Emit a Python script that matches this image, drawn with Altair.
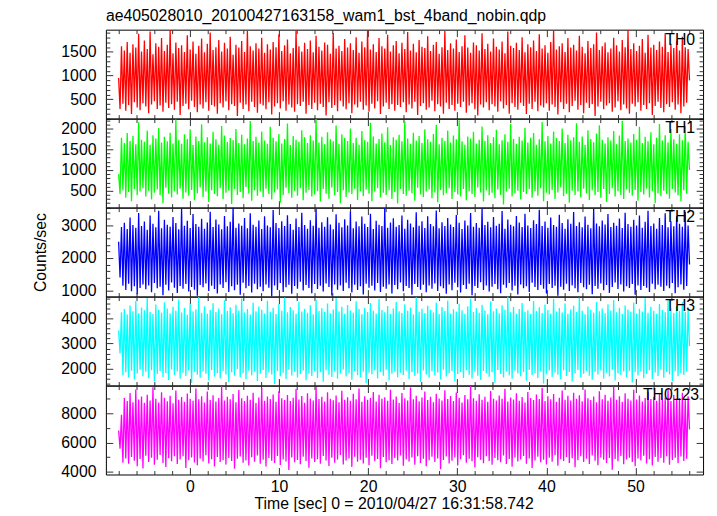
import altair as alt
import pandas as pd

TITLE = "ae405028010_20100427163158_wam1_bst_4band_nobin.qdp"
X_TITLE = "Time [sec] 0 = 2010/04/27 16:31:58.742"
Y_TITLE = "Counts/sec"
T_START = -8.0
T_END = 56.06
X_DOMAIN = [-9.43, 57.58]
X_MAJOR = [0, 10, 20, 30, 40, 50]
X_MINOR = [-8, -6, -4, -2, 2, 4, 6, 8, 12, 14, 16, 18, 22, 24, 26, 28, 32, 34, 36, 38,
           42, 44, 46, 48, 52, 54, 56]

TH0 = [950, 300, 1620, 410, 1530, 260, 1710, 380, 1480, 190, 1660, 440, 1590, 330, 1880, 270, 1510, 420, 1740, 350,
       1560, 210, 1930, 390, 1450, 460, 1680, 300, 1610, 370, 1790, 240, 1520, 430, 1650, 320, 1960, 400, 1470, 280,
       1700, 450, 1580, 170, 1640, 360, 1500, 410, 1850, 290, 1550, 470, 1720, 340, 1460, 230, 1630, 390, 1780, 310,
       1490, 440, 1670, 260, 1910, 380, 1540, 350, 1600, 200, 1750, 420, 1510, 330, 1690, 460, 1570, 270, 1820, 400,
       1440, 360, 1650, 150, 1590, 430, 1730, 300, 1500, 390, 1940, 250, 1620, 450, 1530, 340, 1680, 220, 1570, 410,
       1800, 370, 1480, 290, 1660, 440, 1550, 180, 1710, 350, 1600, 420, 1870, 310, 1520, 460, 1640, 260, 1760, 390,
       1470, 330, 1580, 240, 1950, 400, 1620, 360, 1510, 450, 1690, 200, 1560, 380, 1740, 300, 1490, 430, 1840, 270,
       1610, 410, 1530, 340, 1700, 160, 1650, 440, 1460, 320, 1900, 380, 1570, 250, 1630, 470, 1520, 350, 1770, 290,
       1590, 420, 1680, 210, 1540, 390, 1810, 330, 1480, 450, 1720, 280, 1600, 370, 1960, 240, 1550, 410, 1660, 310,
       1500, 460, 1790, 190, 1620, 350, 1570, 430, 1860, 300, 1510, 400, 1640, 260, 1730, 380, 1470, 340, 1690, 440,
       1560, 230, 1920, 390, 1530, 310, 1670, 450, 1490, 170, 1750, 360, 1610, 420, 1580, 280, 1830, 330, 1520, 470,
       1650, 250, 1710, 400, 1460, 350, 1600, 200, 1940, 430, 1540, 300, 1680, 380, 1570, 260, 1760, 410, 1500, 340,
       1620, 450, 1850, 220, 1590, 370, 1480, 420, 1700, 290, 1640, 160, 1530, 390, 1890, 330, 1560, 440, 1670, 270,
       1510, 400, 1780, 350, 1610, 240, 1550, 460, 1720, 310, 1470, 380, 1930, 200, 1630, 420, 1580, 340, 1690, 280,
       1540, 430, 1810, 360, 1490, 190, 1660, 410, 1600, 300, 1740, 450, 1520, 250, 1870, 370, 1570, 330, 1640, 420,
       1480, 260, 1710, 390, 1950, 340, 1550, 180, 1620, 440, 1680, 300, 1500, 410, 1790, 230, 1590, 360, 1650, 470,
       1530, 280, 1840, 380, 1610, 210, 1470, 430, 1730, 320, 1580, 400, 1660, 150, 1910, 350, 1540, 450, 1620, 290,
       1700, 370, 1490, 420, 1570, 240, 1800, 330, 1640, 460, 1510, 270, 1750, 390, 1600, 310, 1960, 200, 1560, 410,
       1680, 350, 1520, 440, 1630, 260, 1770, 380, 1480, 300, 1860, 420, 1590, 170, 1650, 360, 1540, 450, 1720, 320,
       1610, 230, 1900, 400, 1500, 340, 1670, 440, 1580, 280, 1740, 390, 1530, 210, 1820, 350, 1600, 430, 1560, 900]

TH1 = [900, 420, 1780, 510, 1650, 330, 1890, 470, 1700, 250, 1820, 540, 1620, 390, 2150, 480, 1730, 560, 1680, 360,
       1950, 500, 1610, 290, 1840, 450, 1760, 530, 2010, 400, 1660, 200, 1800, 570, 1690, 430, 1900, 340, 1640, 490,
       2220, 410, 1720, 550, 1630, 310, 1860, 460, 1750, 380, 1980, 520, 1600, 270, 1810, 440, 1700, 580, 2100, 350,
       1670, 480, 1790, 230, 1640, 510, 1920, 420, 1740, 370, 1610, 560, 2060, 300, 1830, 450, 1680, 500, 1770, 180,
       1720, 540, 1990, 400, 1650, 470, 1850, 320, 1620, 590, 1760, 430, 2180, 260, 1700, 510, 1800, 380, 1660, 480,
       1930, 350, 1710, 550, 1630, 420, 2040, 290, 1780, 460, 1690, 530, 1870, 210, 1640, 400, 1750, 570, 2120, 440,
       1600, 330, 1820, 500, 1730, 380, 1680, 560, 1960, 270, 1790, 450, 1650, 520, 1840, 360, 1710, 410, 2230, 490,
       1660, 240, 1800, 540, 1620, 430, 1910, 310, 1740, 580, 1690, 390, 2070, 470, 1630, 200, 1860, 510, 1770, 350,
       1700, 460, 2000, 420, 1650, 550, 1780, 280, 1610, 490, 1940, 370, 1720, 530, 1680, 430, 2140, 250, 1810, 480,
       1640, 560, 1750, 340, 1880, 450, 1670, 400, 2030, 510, 1600, 300, 1790, 470, 1730, 190, 1850, 540, 1690, 420,
       2170, 380, 1760, 500, 1630, 440, 1900, 260, 1710, 570, 1820, 410, 1650, 350, 1980, 480, 1740, 530, 1680, 320,
       1870, 460, 2090, 220, 1620, 520, 1780, 390, 1700, 440, 1950, 560, 1660, 300, 1830, 470, 1740, 410, 2200, 360,
       1690, 540, 1610, 270, 1810, 490, 1760, 420, 1920, 350, 1640, 580, 1730, 460, 2050, 240, 1700, 510, 1840, 390,
       1650, 450, 1790, 320, 1970, 530, 1620, 400, 1720, 170, 1860, 480, 1680, 550, 2110, 360, 1750, 440, 1630, 500,
       1800, 290, 1710, 470, 2020, 420, 1660, 540, 1780, 330, 1890, 490, 1610, 380, 1740, 560, 2160, 250, 1690, 450,
       1820, 410, 1640, 520, 1930, 300, 1770, 460, 1700, 580, 2000, 370, 1650, 430, 1850, 210, 1720, 500, 1790, 400,
       2130, 480, 1680, 340, 1810, 550, 1600, 440, 1960, 280, 1750, 510, 1670, 390, 1880, 470, 2080, 330, 1730, 540,
       1640, 230, 1790, 420, 1710, 560, 1940, 360, 1620, 490, 1830, 400, 2190, 300, 1700, 530, 1760, 450, 1660, 380,
       1870, 520, 1730, 260, 2040, 470, 1650, 410, 1800, 550, 1690, 340, 1910, 490, 1620, 200, 1780, 440, 2110, 370,
       1710, 500, 1840, 420, 1670, 310, 1990, 540, 1740, 460, 1630, 390, 1860, 250, 1720, 510, 2060, 430, 1680, 1000]

TH2 = [2500, 1400, 2950, 1150, 3080, 1020, 2890, 1210, 3240, 980, 3010, 1130, 2930, 890, 3380, 1080, 2980, 1190, 3120, 1040,
       2870, 1160, 3300, 950, 3050, 1230, 2940, 1070, 3450, 1120, 2910, 860, 3170, 1180, 3020, 1000, 2960, 1250, 3260, 1090,
       3070, 930, 2880, 1140, 3510, 1060, 2990, 1200, 3140, 970, 2920, 1110, 3350, 1030, 3040, 840, 2960, 1170, 3200, 1100,
       2900, 1220, 3090, 990, 3420, 1150, 2950, 1050, 3180, 910, 3030, 1190, 2880, 1080, 3290, 1260, 2970, 960, 3110, 1130,
       3540, 1010, 2930, 1180, 3060, 870, 2990, 1240, 3230, 1070, 2910, 1140, 3370, 940, 3020, 1210, 2960, 1040, 3150, 1120,
       2890, 980, 3280, 1190, 3000, 1090, 2940, 830, 3470, 1160, 3070, 1020, 2920, 1230, 3130, 960, 2980, 1100, 3310, 1180,
       3040, 900, 2870, 1140, 3210, 1060, 2950, 1270, 3390, 1000, 3010, 1170, 2900, 1080, 3160, 920, 2990, 1200, 3500, 1050,
       2930, 1150, 3100, 970, 2960, 1220, 3250, 1110, 3030, 850, 2880, 1190, 3340, 1030, 3080, 1160, 2940, 990, 3190, 1240,
       3000, 1070, 3430, 940, 2910, 1180, 3120, 1020, 2970, 1130, 3270, 880, 3050, 1210, 2950, 1090, 3360, 1150, 2890, 1000,
       3140, 1230, 3020, 960, 2980, 1120, 3530, 1060, 2930, 1190, 3090, 910, 3220, 1170, 2960, 1040, 3010, 1250, 3300, 980,
       2900, 1140, 3170, 1080, 3060, 870, 2940, 1200, 3400, 1110, 2990, 1030, 3130, 1180, 2920, 950, 3280, 1160, 3040, 1060,
       2970, 1220, 3460, 990, 2910, 1130, 3100, 1070, 2980, 900, 3230, 1190, 3030, 1010, 2950, 1240, 3320, 1100, 3080, 940,
       2890, 1170, 3150, 1050, 3000, 1210, 3380, 860, 2960, 1140, 3070, 1080, 2930, 1260, 3520, 1020, 3010, 1160, 3110, 970,
       2940, 1120, 3260, 1200, 2990, 1040, 3050, 920, 3440, 1180, 2900, 1090, 3180, 1230, 3020, 1000, 2970, 1150, 3290, 880,
       3090, 1190, 2950, 1070, 3360, 1130, 3000, 960, 2920, 1240, 3160, 1110, 3040, 1020, 3480, 1170, 2980, 1060, 3120, 910,
       2930, 1200, 3240, 1080, 3010, 1150, 2960, 840, 3330, 1120, 3070, 1030, 2900, 1210, 3190, 990, 3050, 1160, 3410, 1070,
       2980, 950, 3100, 1230, 2940, 1100, 3270, 1040, 3020, 1180, 2910, 890, 3500, 1140, 3060, 1060, 2970, 1220, 3150, 1010,
       3030, 1170, 3350, 930, 2950, 1110, 3080, 1250, 2990, 1050, 3210, 1190, 2920, 970, 3390, 1130, 3040, 1080, 2960, 1200,
       3170, 870, 3000, 1160, 3300, 1020, 2930, 1140, 3110, 1090, 3450, 960, 2980, 1210, 3060, 1040, 2900, 1180, 3230, 1120,
       3010, 990, 3370, 1150, 2940, 1070, 3130, 1230, 2970, 920, 3280, 1100, 3050, 1190, 2960, 1030, 3420, 1140, 3000, 1800]

TH3 = [3520, 2600, 4250, 1720, 4380, 1850, 4160, 1640, 4520, 1910, 4290, 1560, 4700, 1800, 4210, 1950, 4440, 1690, 4330, 1870,
       4820, 1610, 4270, 1930, 4180, 1480, 4560, 1780, 4350, 1900, 4230, 1660, 4650, 1820, 4400, 1540, 4200, 1960, 4470, 1740,
       4310, 1880, 4760, 1590, 4240, 1830, 4420, 1700, 4150, 1920, 4590, 1420, 4280, 1860, 4370, 1750, 4860, 1630, 4220, 1890,
       4490, 1790, 4190, 1520, 4340, 1940, 4610, 1680, 4260, 1810, 4400, 1600, 4170, 1900, 4730, 1760, 4300, 1450, 4450, 1850,
       4210, 1710, 4550, 1980, 4320, 1650, 4800, 1820, 4240, 1570, 4380, 1910, 4160, 1730, 4630, 1870, 4290, 1500, 4480, 1790,
       4350, 1940, 4200, 1620, 4710, 1840, 4270, 1760, 4430, 1380, 4180, 1900, 4580, 1690, 4310, 1830, 4840, 1580, 4250, 1950,
       4460, 1720, 4330, 1860, 4190, 1640, 4670, 1780, 4280, 1920, 4390, 1530, 4230, 1810, 4530, 1700, 4170, 1890, 4750, 1610,
       4300, 1850, 4410, 1470, 4260, 1930, 4600, 1750, 4210, 1660, 4360, 1880, 4820, 1590, 4280, 1800, 4470, 1960, 4190, 1680,
       4540, 1820, 4320, 1550, 4230, 1900, 4690, 1730, 4380, 1640, 4170, 1870, 4420, 1410, 4260, 1840, 4620, 1770, 4310, 1930,
       4200, 1600, 4780, 1860, 4340, 1710, 4250, 1950, 4500, 1520, 4180, 1790, 4400, 1880, 4660, 1650, 4290, 1830, 4220, 1740,
       4570, 1910, 4310, 1580, 4440, 1850, 4160, 1700, 4850, 1800, 4270, 1460, 4390, 1920, 4220, 1760, 4510, 1630, 4350, 1890,
       4240, 1720, 4640, 1840, 4180, 1560, 4460, 1950, 4300, 1680, 4720, 1810, 4200, 1900, 4370, 1490, 4280, 1780, 4590, 1860,
       4330, 1620, 4190, 1930, 4490, 1750, 4790, 1600, 4260, 1870, 4410, 1710, 4230, 1540, 4550, 1900, 4320, 1820, 4170, 1670,
       4680, 1850, 4290, 1430, 4400, 1940, 4210, 1780, 4530, 1640, 4350, 1880, 4870, 1730, 4250, 1590, 4460, 1910, 4190, 1800,
       4380, 1690, 4620, 1860, 4270, 1510, 4330, 1950, 4180, 1740, 4700, 1820, 4300, 1620, 4450, 1890, 4220, 1400, 4560, 1770,
       4340, 1920, 4200, 1660, 4780, 1840, 4280, 1750, 4420, 1570, 4240, 1930, 4600, 1700, 4190, 1860, 4370, 1480, 4510, 1810,
       4260, 1940, 4830, 1640, 4310, 1790, 4170, 1900, 4480, 1710, 4350, 1550, 4230, 1870, 4660, 1760, 4290, 1920, 4400, 1600,
       4210, 1830, 4570, 1680, 4320, 1950, 4740, 1520, 4250, 1800, 4430, 1740, 4180, 1880, 4520, 1650, 4360, 1910, 4270, 1440,
       4640, 1850, 4200, 1720, 4390, 1890, 4280, 1610, 4810, 1780, 4230, 1930, 4470, 1570, 4310, 1840, 4190, 1700, 4580, 1950,
       4340, 1630, 4250, 1860, 4720, 1760, 4410, 1500, 4220, 1900, 4490, 1690, 4300, 1820, 4650, 1740, 4260, 1880, 4370, 2900]

TH0123 = [6820, 5580, 7900, 4620, 9050, 4910, 8830, 4550, 9380, 5020, 8760, 4760, 9620, 4390, 8940, 4880, 9150, 4230, 8710, 5100,
          9270, 4680, 8880, 4960, 9780, 4490, 8990, 4820, 8740, 5150, 9430, 4600, 9060, 4330, 8820, 4930, 9200, 4720, 8690, 5060,
          9560, 4530, 8930, 4840, 9110, 5070, 8780, 4270, 9350, 4790, 9000, 4980, 8850, 4640, 9690, 4450, 8960, 4900, 9170, 4710,
          8730, 5130, 9480, 4580, 8900, 4860, 9230, 4370, 8800, 5020, 9040, 4670, 9840, 4800, 8870, 4500, 9120, 4950, 8950, 4740,
          9310, 4210, 8760, 4890, 9590, 5050, 9020, 4620, 8840, 4780, 9190, 4430, 8920, 5000, 9400, 4690, 8700, 5110, 9080, 4550,
          9720, 4830, 8860, 4360, 9140, 4940, 8980, 4760, 9290, 4600, 8790, 5080, 9510, 4470, 9030, 4850, 8910, 4710, 9250, 4120,
          8830, 4990, 9060, 4650, 9650, 4810, 8940, 4520, 9180, 5040, 8720, 4740, 9360, 4290, 9010, 4920, 8880, 4680, 9800, 4870,
          8970, 4560, 9130, 5090, 8810, 4780, 9440, 4400, 9000, 4960, 8890, 4630, 9220, 4840, 8750, 5150, 9540, 4510, 8930, 4770,
          9100, 4910, 8850, 4340, 9330, 5030, 8960, 4690, 9700, 4820, 8780, 4580, 9160, 4970, 8920, 4460, 9050, 5100, 9460, 4730,
          8800, 4880, 9260, 4250, 8990, 5010, 9090, 4660, 8860, 4800, 9610, 4540, 8940, 4940, 9150, 4770, 8710, 5120, 9380, 4410,
          9030, 4850, 8870, 4700, 9760, 4980, 8950, 4490, 9200, 5060, 8820, 4610, 9070, 4890, 9490, 4380, 8900, 4790, 9120, 5030,
          8760, 4670, 9340, 4920, 9010, 4180, 8880, 4810, 9580, 5050, 8970, 4570, 9180, 4760, 8830, 4990, 9420, 4440, 9060, 4860,
          8740, 5140, 9240, 4620, 8960, 4900, 9860, 4720, 9020, 4300, 8850, 5000, 9300, 4830, 8930, 4590, 9130, 5070, 8780, 4750,
          9520, 4480, 9000, 4940, 8870, 4800, 9210, 4660, 8990, 5110, 9670, 4530, 8800, 4880, 9080, 4350, 8940, 4980, 9370, 4710,
          8860, 4840, 9110, 5090, 8730, 4560, 9450, 4920, 9040, 4260, 8910, 4780, 9280, 5040, 8980, 4650, 9740, 4820, 8840, 4500,
          9160, 4960, 8950, 4690, 9320, 5130, 8790, 4420, 9060, 4870, 9550, 4740, 8920, 5010, 9190, 4600, 8870, 4930, 9400, 4320,
          8990, 4790, 9230, 5060, 8820, 4670, 9630, 4900, 9030, 4540, 8900, 5110, 9140, 4760, 8760, 4450, 9500, 4990, 8960, 4820,
          9270, 4610, 8850, 4950, 9080, 4150, 9810, 4880, 8930, 4730, 9170, 5080, 8780, 4520, 9360, 4840, 9000, 4970, 8880, 4680,
          9600, 4390, 8940, 4910, 9210, 4770, 8810, 5100, 9050, 4580, 9470, 4860, 8970, 4440, 9130, 5020, 8850, 4700, 9330, 4940,
          8920, 4630, 9090, 5070, 9690, 4480, 8830, 4810, 9250, 4960, 8960, 4590, 9020, 5050, 9410, 4750, 8900, 4900, 9160, 6900]

PANELS = [
    # label, values, colour, y-domain, major ticks, minor ticks, label inset
    ("TH0", TH0, "#ff0000", [96, 1968], [500, 1000, 1500],
     [100, 200, 300, 400, 600, 700, 800, 900, 1100, 1200, 1300, 1400, 1600, 1700, 1800, 1900], 8),
    ("TH1", TH1, "#00ff00", [95, 2238], [500, 1000, 1500, 2000],
     [100, 200, 300, 400, 600, 700, 800, 900, 1100, 1200, 1300, 1400, 1600, 1700, 1800, 1900, 2100, 2200], 8),
    ("TH2", TH2, "#0000ff", [818, 3545], [1000, 2000, 3000],
     [1200, 1400, 1600, 1800, 2200, 2400, 2600, 2800, 3200, 3400], 8),
    ("TH3", TH3, "#00ffff", [1320, 4880], [2000, 3000, 4000],
     [1400, 1600, 1800, 2200, 2400, 2600, 2800, 3200, 3400, 3600, 3800, 4200, 4400, 4600, 4800], 8),
    ("TH0123", TH0123, "#ff00ff", [3820, 9890], [4000, 6000, 8000],
     [5000, 7000, 9000], 4),
]

W = 604
H = 89.9
FONT = "Liberation Sans"
FS = 16
TICK_COLOR = "#333333"


def times(n):
    step = (T_END - T_START) / (n - 1)
    return [T_START + i * step for i in range(n)]


def panel(idx, label, values, color, ydom, ymajor, yminor, inset):
    first = idx == 0
    last = idx == len(PANELS) - 1
    df = pd.DataFrame({"t": times(len(values)), "v": values})
    xs = alt.Scale(domain=X_DOMAIN, nice=False, zero=False)
    ys = alt.Scale(domain=ydom, nice=False, zero=False)

    if last:
        xaxis = alt.Axis(orient="bottom", values=X_MAJOR, ticks=False, domain=False, grid=False,
                         labelPadding=4, labelFlush=False, format="d",
                         title=X_TITLE, titleX=291, titlePadding=1)
    else:
        xaxis = None
    if idx == 2:
        yaxis = alt.Axis(orient="left", values=ymajor, ticks=False, domain=False, grid=False,
                         labelPadding=10, labelFlush=False, format="d",
                         title=Y_TITLE, titlePadding=12)
    else:
        yaxis = alt.Axis(orient="left", values=ymajor, ticks=False, domain=False, grid=False,
                         labelPadding=10, labelFlush=False, format="d", title=None)

    line = alt.Chart().mark_line(color=color, strokeWidth=1.3).encode(
        x=alt.X("t:Q", scale=xs, axis=xaxis),
        y=alt.Y("v:Q", scale=ys, axis=yaxis),
    )

    def tick_layer(xorient, yorient, xvals, yvals, size):
        return alt.Chart().mark_line(opacity=0).encode(
            x=alt.X("t:Q", scale=xs,
                    axis=alt.Axis(orient=xorient, offset=-H, values=xvals, tickSize=size,
                                  labels=False, domain=False, grid=False, title=None)),
            y=alt.Y("v:Q", scale=ys,
                    axis=alt.Axis(orient=yorient, offset=-W, values=yvals, tickSize=size,
                                  labels=False, domain=False, grid=False, title=None)),
        )

    lab = alt.Chart(pd.DataFrame({"name": [label]})).mark_text(
        align="right", baseline="alphabetic", font=FONT, fontSize=FS, color="black"
    ).encode(text="name:N", x=alt.value(W - inset), y=alt.value(15))

    layers = alt.layer(
        line,
        tick_layer("top", "right", X_MAJOR, ymajor, 7),
        tick_layer("bottom", "left", X_MAJOR, ymajor, 7),
        tick_layer("top", "right", X_MINOR, yminor, 4),
        tick_layer("bottom", "left", X_MINOR, yminor, 4),
        lab,
        data=df,
    ).resolve_axis(x="independent", y="independent")

    if first:
        return layers.properties(
            width=W, height=H,
            title=alt.TitleParams(TITLE, anchor="start", frame="group", font=FONT, fontSize=FS,
                                  fontWeight="normal", color="black", offset=4),
        )
    return layers.properties(width=W, height=H)


charts = [panel(i, *p) for i, p in enumerate(PANELS)]

chart = alt.vconcat(*charts, spacing=0, bounds="flush").configure_view(
    stroke="black", strokeWidth=1
).configure_axis(
    labelFont=FONT, labelFontSize=FS, labelColor="black",
    titleFont=FONT, titleFontSize=FS, titleFontWeight="normal", titleColor="black",
    tickColor=TICK_COLOR, tickWidth=1,
).properties(padding={"left": 24, "top": -4, "right": 5, "bottom": 5})

chart.save("out.html", embed_options={"renderer": "svg", "actions": False})
